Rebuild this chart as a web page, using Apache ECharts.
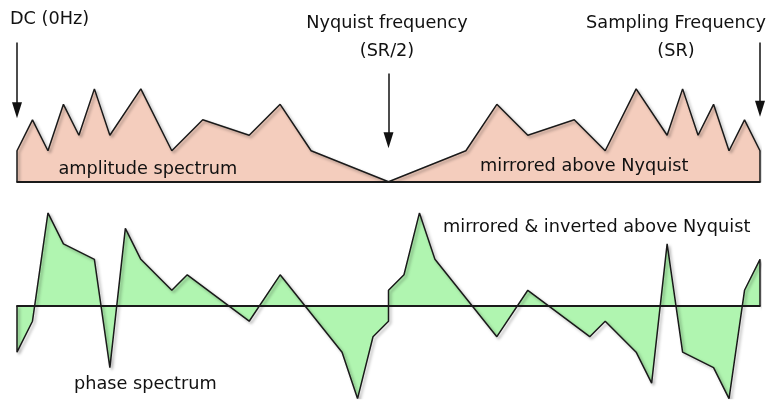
<!DOCTYPE html>
<html>
<head>
<meta charset="utf-8">
<script src="https://cdn.jsdelivr.net/npm/echarts@6/dist/echarts.min.js"></script>
<style>
  html, body { margin: 0; padding: 0; background: #fff; }
  #chart { width: 771px; height: 400px; }
</style>
</head>
<body>
<div id="chart"></div>
<script>
// frequency bins, 0 = DC, 24 = Nyquist, 48 = sampling rate
const ampBins = [0, 0, 1, 2, 3, 4, 5, 6, 8, 10, 12, 15, 17, 19, 24, 29, 31, 33, 36, 38, 40, 42, 43, 44, 45, 46, 47, 48, 48];
const ampValues = [0, 2, 4, 2, 5, 3, 6, 3, 6, 2, 4, 3, 5, 2, 0, 2, 5, 3, 4, 2, 6, 3, 6, 3, 5, 2, 4, 2, 0];

const phaseBins = [0, 0, 1, 2, 3, 5, 6, 7, 8, 10, 11, 15, 17, 21, 22, 23, 24, 24, 25, 26, 27, 31, 33, 37, 38, 40, 41, 42, 43, 45, 46, 47, 48, 48];
const phaseValues = [0, -3, -1, 6, 4, 3, -4, 5, 3, 1, 2, -1, 2, -3, -6, -2, -1, 1, 2, 6, 3, -2, 1, -2, -1, -3, -5, 4, -3, -4, -6, 1, 3, 0];

// arrows: [bin, from, to]  (the head is centred on "to")
const arrows = [
  [0, 9, 4.62],
  [24, 7, 2.68],
  [48, 9, 4.72]
];

const chart = echarts.init(document.getElementById("chart"));

const font = "DejaVu Sans";
const outline = {
  color: "#1a1a1a",
  width: 1.5,
  shadowColor: "rgba(0, 0, 0, 0.35)",
  shadowBlur: 3,
  shadowOffsetX: 2,
  shadowOffsetY: 2
};

function pairs(xs, ys) {
  return xs.map((x, i) => [x, ys[i]]);
}

function xAxis(gridIndex) {
  return {
    type: "value",
    gridIndex: gridIndex,
    min: 0,
    max: 48,
    z: 5,
    axisLine: { show: true, onZero: true, lineStyle: { color: "#1a1a1a", width: 1.8 } },
    axisTick: { show: false },
    axisLabel: { show: false },
    splitLine: { show: false }
  };
}

function yAxis(gridIndex, min, max) {
  return {
    type: "value",
    gridIndex: gridIndex,
    min: min,
    max: max,
    axisLine: { show: false },
    axisTick: { show: false },
    axisLabel: { show: false },
    splitLine: { show: false }
  };
}

// y is the text baseline
function text(str, x, y, align) {
  return {
    type: "text",
    x: x,
    y: y - 15,
    z: 100,
    style: {
      text: str,
      fill: "#111",
      font: "17.7px '" + font + "'",
      align: align || "left",
      verticalAlign: "top"
    }
  };
}

let option = {
  animation: false,
  grid: [
    { left: 17, right: 11, top: 11.5, height: 170.2 },
    { left: 17, right: 11, top: 212.9, height: 185.7 }
  ],
  xAxis: [xAxis(0), xAxis(1)],
  yAxis: [yAxis(0, 0, 11), yAxis(1, -6, 6)],
  series: [
    {
      name: "amplitude spectrum",
      type: "line",
      xAxisIndex: 0,
      yAxisIndex: 0,
      data: pairs(ampBins, ampValues),
      showSymbol: false,
      lineStyle: outline,
      areaStyle: { color: "#f4cdbd", opacity: 1 },
      markLine: {
        silent: true,
        symbol: ["none", "triangle"],
        symbolSize: [10, 16],
        label: { show: false },
        lineStyle: { color: "#111", width: 1.5, type: "solid" },
        data: arrows.map(a => [{ coord: [a[0], a[1]] }, { coord: [a[0], a[2]] }])
      }
    },
    {
      name: "phase spectrum",
      type: "line",
      xAxisIndex: 1,
      yAxisIndex: 1,
      data: pairs(phaseBins, phaseValues),
      showSymbol: false,
      lineStyle: outline,
      areaStyle: { color: "#b0f5b0", opacity: 1 }
    }
  ],
  graphic: {
    elements: [
      text("DC (0Hz)", 10, 25),
      text("Nyquist frequency", 387, 29, "center"),
      text("(SR/2)", 387, 57, "center"),
      text("Sampling Frequency", 676, 29, "center"),
      text("(SR)", 676, 57, "center"),
      text("amplitude spectrum", 58.5, 175),
      text("mirrored above Nyquist", 480, 172),
      text("mirrored & inverted above Nyquist", 443, 233),
      text("phase spectrum", 74, 390)
    ]
  }
};

chart.setOption(option);
</script>
</body>
</html>
